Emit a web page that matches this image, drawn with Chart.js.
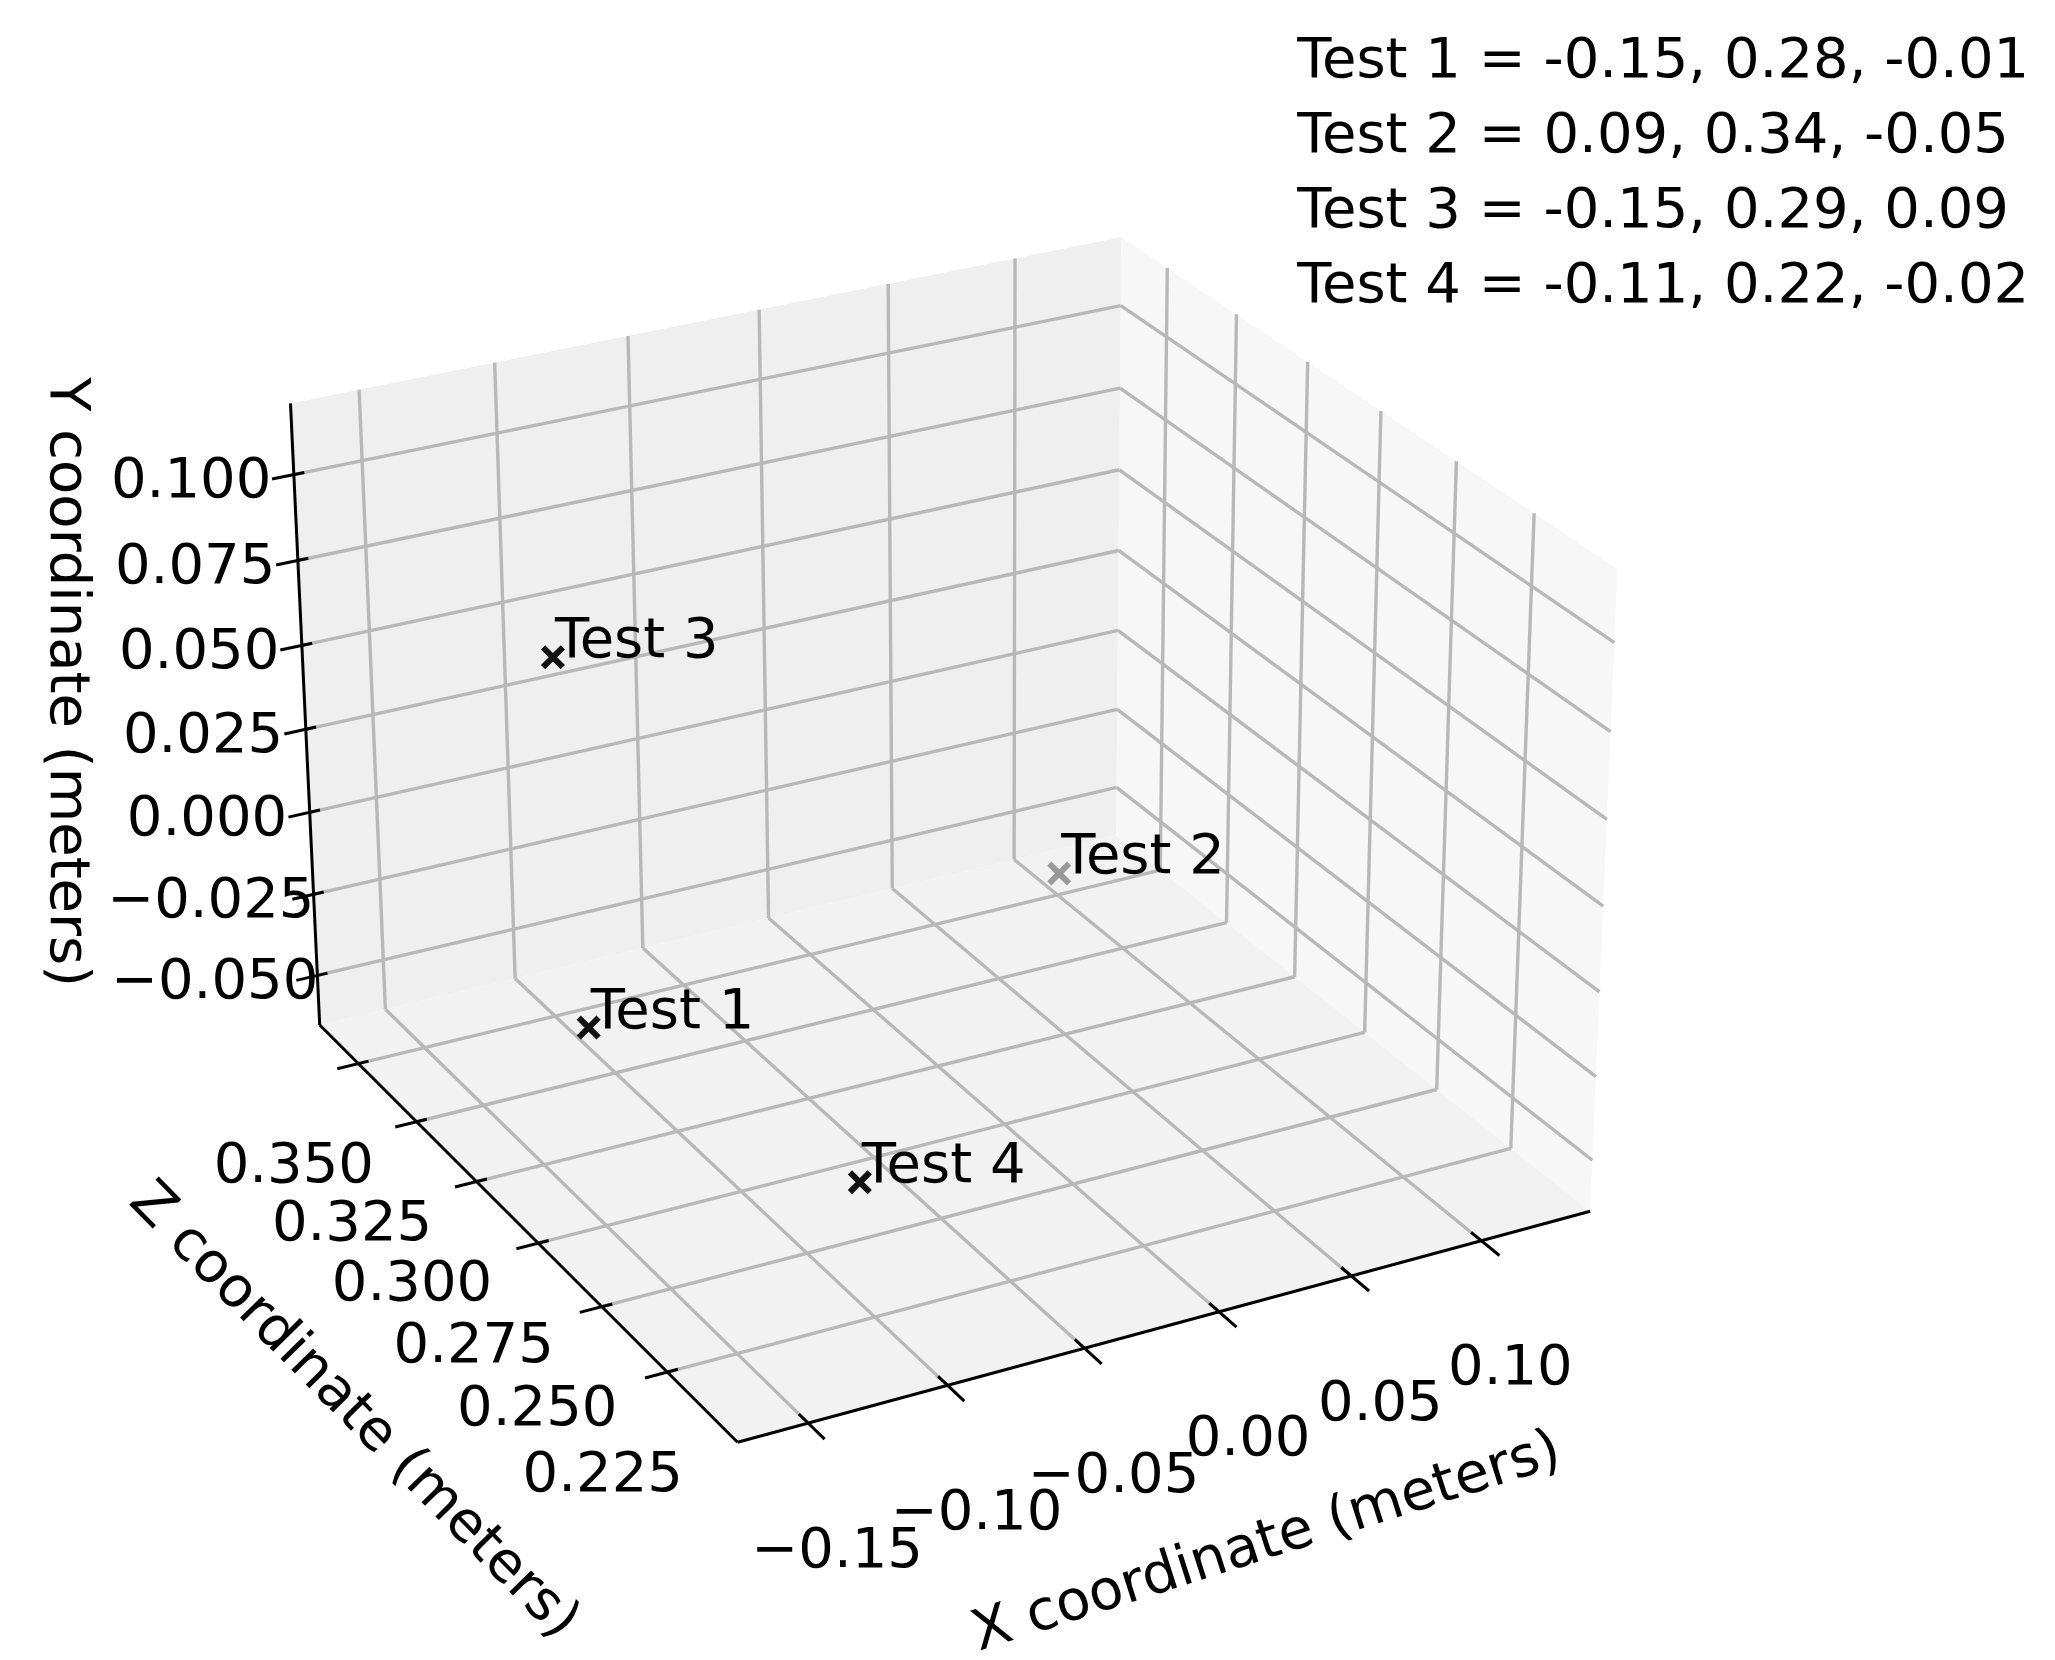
<!DOCTYPE html>
<html>
<head>
<meta charset="utf-8">
<script src="https://cdn.jsdelivr.net/npm/chart.js@4.4.1/dist/chart.umd.min.js"></script>
<style>
  body { margin: 0; background: #fff; }
  #wrap { width: 2055px; height: 1660px; position: relative; }
</style>
</head>
<body>
<div id="wrap"><canvas id="chart_3d"></canvas></div>
<script>
// ---- data (X, Z, Y as in the legend text) ----
const testLabels = ['Test 1', 'Test 2', 'Test 3', 'Test 4'];
const xVals = [-0.15, 0.09, -0.15, -0.11];
const zVals = [0.28, 0.34, 0.29, 0.22];
const yVals = [-0.01, -0.05, 0.09, -0.02];
const pointColors = ['#111111', '#999999', '#111111', '#111111'];

const xTicks = [-0.15, -0.10, -0.05, 0.00, 0.05, 0.10];
const xTickLabels = ['\u22120.15', '\u22120.10', '\u22120.05', '0.00', '0.05', '0.10'];
const yTicks = [-0.050, -0.025, 0.000, 0.025, 0.050, 0.075, 0.100];
const yTickLabels = ['\u22120.050', '\u22120.025', '0.000', '0.025', '0.050', '0.075', '0.100'];
const zTicks = [0.225, 0.250, 0.275, 0.300, 0.325, 0.350];
const zTickLabels = ['0.225', '0.250', '0.275', '0.300', '0.325', '0.350'];

// axis limits of the 3d box
const xRange = [-0.175, 0.1425];
const yRange = [-0.0654, 0.1205];
const zRange = [0.199, 0.367];

const infoLines = [
  'Test 1 = -0.15, 0.28, -0.01',
  'Test 2 = 0.09, 0.34, -0.05',
  'Test 3 = -0.15, 0.29, 0.09',
  'Test 4 = -0.11, 0.22, -0.02'
];

const FONT = '56px "DejaVu Sans"';
const S = 1.317; // layout reference units -> canvas px

// ---- camera: perspective matrix fitted to where the box sits on the page ----
// [nx, ny, nz, screenX, screenY]  (normalized box coords, layout units)
const boxAnchors = [
  [0, 1, 1, 212, 298], [0, 0, 1, 232, 785], [1, 1, 1, 855, 168], [1, 1, 0, 1235, 420],
  [1, 0, 0, 1215, 925], [0, 0, 0, 555, 1110], [1, 0, 1, 848, 632]
];

function norm(v, r) { return (v - r[0]) / (r[1] - r[0]); }

function fitProjection(cal) {
  const n = 11;
  const M = Array.from({ length: n }, () => new Array(n).fill(0));
  const c = new Array(n).fill(0);
  function addRow(row, val) {
    for (let i = 0; i < n; i++) {
      c[i] += row[i] * val;
      for (let j = 0; j < n; j++) M[i][j] += row[i] * row[j];
    }
  }
  cal.forEach(([X, Y, Z, u, v]) => {
    addRow([X, Y, Z, 1, 0, 0, 0, 0, -u * X, -u * Y, -u * Z], u);
    addRow([0, 0, 0, 0, X, Y, Z, 1, -v * X, -v * Y, -v * Z], v);
  });
  // gauss elimination
  for (let i = 0; i < n; i++) {
    let p = i;
    for (let k = i + 1; k < n; k++) if (Math.abs(M[k][i]) > Math.abs(M[p][i])) p = k;
    [M[i], M[p]] = [M[p], M[i]]; [c[i], c[p]] = [c[p], c[i]];
    for (let k = 0; k < n; k++) {
      if (k === i) continue;
      const f = M[k][i] / M[i][i];
      for (let j = i; j < n; j++) M[k][j] -= f * M[i][j];
      c[k] -= f * c[i];
    }
  }
  return c.map((v, i) => v / M[i][i]);
}

// extra anchors: grid line tops on the two back panes
const calib = boxAnchors.slice();
[261, 365, 469, 567, 665, 770].forEach((sx, i) => {
  calib.push([norm(xTicks[i], xRange), 1, 1, sx, 298 - (sx - 212) * 0.202]);
});
[[1173, 385], [1112, 346], [1055, 307], [1000, 267], [947, 231], [891, 194]].forEach((p, i) => {
  calib.push([1, 1, norm(zTicks[i], zRange), p[0], p[1]]);
});
[745, 680, 615, 550, 485, 418, 352].forEach((sy, i) => {
  calib.push([0, norm(yTicks[i], yRange), 1, 212 + (sy - 298) / 487 * 20, sy]);
});
const P = fitProjection(calib);

function proj(X, Y, Z) {
  const a = norm(X, xRange), b = norm(Y, yRange), d = norm(Z, zRange);
  const w = P[8] * a + P[9] * b + P[10] * d + 1;
  return {
    x: S * (P[0] * a + P[1] * b + P[2] * d + P[3]) / w,
    y: S * (P[4] * a + P[5] * b + P[6] * d + P[7]) / w
  };
}

const points = testLabels.map((t, i) => proj(xVals[i], yVals[i], zVals[i]));

// ---- box drawing plugin ----
const boxPlugin = {
  id: 'box3d',
  beforeDatasetsDraw(chart) {
    const ctx = chart.ctx;
    const sx = chart.scales.x, sy = chart.scales.y;
    const px = (X, Y, Z) => { const p = proj(X, Y, Z); return [sx.getPixelForValue(p.x), sy.getPixelForValue(p.y)]; };
    const [x0, x1] = xRange, [y0, y1] = yRange, [z0, z1] = zRange;

    function poly(pts, fill) {
      ctx.beginPath();
      pts.forEach((p, i) => { const q = px(...p); i ? ctx.lineTo(q[0], q[1]) : ctx.moveTo(q[0], q[1]); });
      ctx.closePath(); ctx.fillStyle = fill; ctx.fill();
    }
    function line(a, b, color, w) {
      const p = px(...a), q = px(...b);
      ctx.beginPath(); ctx.moveTo(p[0], p[1]); ctx.lineTo(q[0], q[1]);
      ctx.strokeStyle = color; ctx.lineWidth = w; ctx.stroke();
    }
    ctx.save();
    // panes
    poly([[x0, y0, z1], [x1, y0, z1], [x1, y1, z1], [x0, y1, z1]], '#efefef'); // back-left
    poly([[x1, y0, z1], [x1, y0, z0], [x1, y1, z0], [x1, y1, z1]], '#f7f7f7'); // right
    poly([[x0, y0, z0], [x1, y0, z0], [x1, y0, z1], [x0, y0, z1]], '#f2f2f2'); // floor

    const gc = '#b8b8b8', gw = 3.4;
    xTicks.forEach(x => { line([x, y0, z1], [x, y1, z1], gc, gw); line([x, y0, z0], [x, y0, z1], gc, gw); });
    zTicks.forEach(z => { line([x1, y0, z], [x1, y1, z], gc, gw); line([x0, y0, z], [x1, y0, z], gc, gw); });
    yTicks.forEach(y => { line([x0, y, z1], [x1, y, z1], gc, gw); line([x1, y, z1], [x1, y, z0], gc, gw); });

    // axis lines
    const ac = '#000', aw = 3;
    line([x0, y0, z1], [x0, y1, z1], ac, aw);
    line([x0, y0, z1], [x0, y0, z0], ac, aw);
    line([x0, y0, z0], [x1, y0, z0], ac, aw);
    const dx = (x1 - x0), dz = (z1 - z0);
    yTicks.forEach(y => line([x0 - 0.025 * dx, y, z1], [x0 + 0.012 * dx, y, z1], ac, aw));
    zTicks.forEach(z => line([x0 - 0.025 * dx, y0, z], [x0 + 0.012 * dx, y0, z], ac, aw));
    xTicks.forEach(x => line([x, y0, z0 - 0.035 * dz], [x, y0, z0 + 0.02 * dz], ac, aw));

    // tick labels
    ctx.fillStyle = '#000'; ctx.font = FONT;
    ctx.textAlign = 'center'; ctx.textBaseline = 'middle';
    yTicks.forEach((y, i) => { const p = px(x0, y, z1); ctx.fillText(yTickLabels[i], p[0] - 78 * S, p[1] + 6 * S); });
    zTicks.forEach((z, i) => { const p = px(x0, y0, z); ctx.fillText(zTickLabels[i], p[0] - 49 * S, p[1] + 79 * S); });
    xTicks.forEach((x, i) => { const p = px(x, y0, z0); ctx.fillText(xTickLabels[i], p[0] + 22 * S, p[1] + 98 * S); });

    // axis titles
    function rotText(t, cx, cy, ang) {
      ctx.save(); ctx.translate(cx * S, cy * S); ctx.rotate(ang);
      ctx.fillText(t, 0, 0); ctx.restore();
    }
    rotText('Y coordinate (meters)', 50, 518, Math.PI / 2);
    rotText('Z coordinate (meters)', 268, 1072, 45.5 * Math.PI / 180);
    rotText('X coordinate (meters)', 962, 1172, -17.7 * Math.PI / 180);
    ctx.restore();
  },
  afterDatasetsDraw(chart) {
    const ctx = chart.ctx;
    const sx = chart.scales.x, sy = chart.scales.y;
    ctx.save();
    ctx.font = FONT; ctx.fillStyle = '#000';
    ctx.textAlign = 'left'; ctx.textBaseline = 'alphabetic';
    points.forEach((p, i) => ctx.fillText(testLabels[i], sx.getPixelForValue(p.x) + 2, sy.getPixelForValue(p.y)));
    infoLines.forEach((t, i) => ctx.fillText(t, 985 * S, (43 + 57 * i) * S + 20));
    ctx.restore();
  }
};

const chart = new Chart(document.getElementById('chart_3d').getContext('2d'), {
  type: 'scatter',
  data: {
    datasets: [{
      data: points.map(p => ({ x: p.x, y: p.y })),
      pointStyle: 'crossRot',
      pointRadius: 14,
      borderWidth: 6,
      borderColor: pointColors,
      backgroundColor: pointColors
    }]
  },
  options: {
    responsive: true,
    maintainAspectRatio: false,
    devicePixelRatio: 1,
    animation: false,
    layout: { padding: 0 },
    plugins: { legend: { display: false }, tooltip: { enabled: false } },
    scales: {
      x: { type: 'linear', min: 0, max: 2055, display: false },
      y: { type: 'linear', min: 0, max: 1660, reverse: true, display: false }
    }
  },
  plugins: [boxPlugin]
});
</script>
</body>
</html>
